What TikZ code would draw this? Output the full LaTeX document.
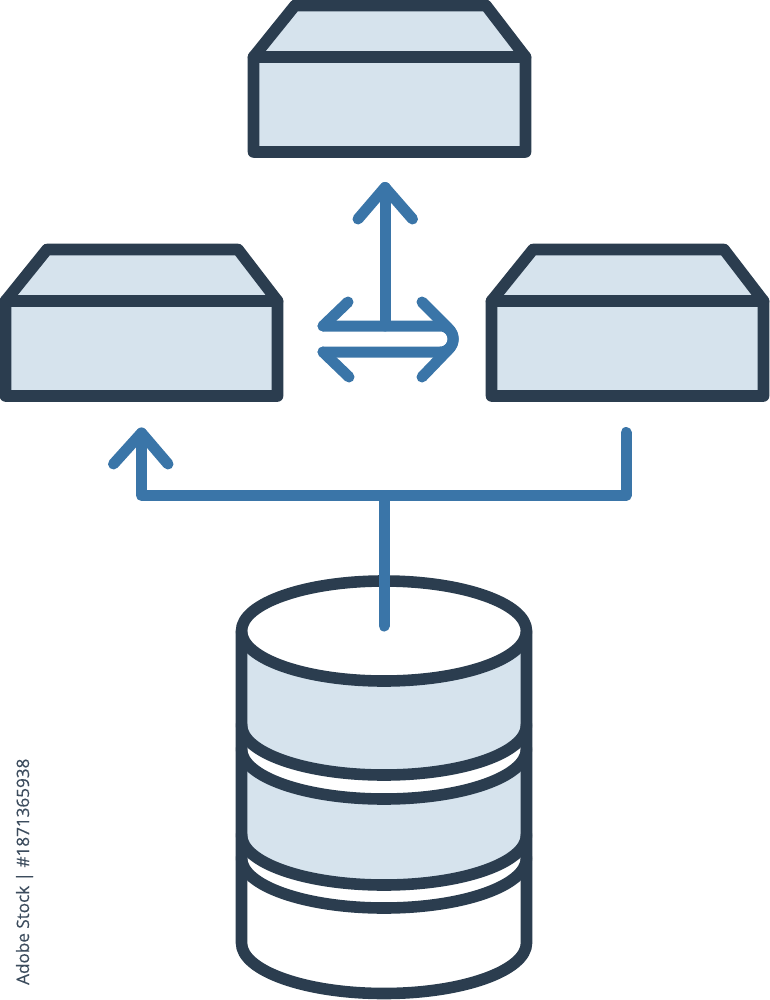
\documentclass[tikz,border=0pt]{standalone}
\usepackage{fontspec}
\setmainfont{Open Sans}
\newfontfamily\stampfont[FakeBold=0.25]{Open Sans}
\definecolor{navy}{HTML}{2B3D4F}
\definecolor{flow}{HTML}{3A75A8}
\definecolor{pale}{HTML}{D6E3ED}
\tikzset{
  outline/.style={draw=navy,line width=11.6pt,line join=round,line cap=round},
  flowline/.style={draw=flow,line width=11pt,line join=round,line cap=round},
  panel/.style={fill=pale,draw=none},
  stamp/.style={font=\stampfont\fontsize{17.1pt}{18pt}\selectfont,text=navy!92!white,rotate=90,inner sep=0pt},
  pics/storagebox/.style={code={
    \path[panel] (5.5,301) -- (47,249.5) -- (238,249.5) -- (277.5,301) -- (277.5,396) -- (5.5,396) -- cycle;
    \draw[outline] (5.5,301) -- (47,249.5) -- (238,249.5) -- (277.5,301) -- (277.5,396) -- (5.5,396) -- cycle;
    \draw[outline] (5.5,301) -- (277.5,301);
  }}
}
\begin{document}
\begin{tikzpicture}[x=1pt,y=-1pt]
\useasboundingbox (0,0) rectangle (769,1000);
% storage boxes
\pic at (248,-244) {storagebox};
\pic at (0,0) {storagebox};
\pic at (486,0) {storagebox};
% database: filled bands
\path[panel] (241.5,631) .. controls (241.5,658.6) and (305,681) .. (384,681)
  .. controls (463,681) and (526.5,658.6) .. (526.5,631) -- (526.5,725)
  .. controls (526.5,752.6) and (463,775) .. (384,775)
  .. controls (305,775) and (241.5,752.6) .. (241.5,725) -- cycle;
\path[panel] (241.5,749) .. controls (241.5,776.6) and (305,799) .. (384,799)
  .. controls (463,799) and (526.5,776.6) .. (526.5,749) -- (526.5,835)
  .. controls (526.5,862.6) and (463,885) .. (384,885)
  .. controls (305,885) and (241.5,862.6) .. (241.5,835) -- cycle;
% database: outline
\draw[outline] (384,631) ellipse [x radius=142.5pt,y radius=50pt];
\draw[outline] (241.5,631) -- (241.5,943) .. controls (241.5,970.6) and (305,993.5) .. (384,993.5)
  .. controls (463,993.5) and (526.5,970.6) .. (526.5,943) -- (526.5,631);
\foreach \yy in {725,749,835,858}{
  \draw[outline] (241.5,\yy) .. controls (241.5,\yy+27.6) and (305,\yy+50) .. (384,\yy+50)
    .. controls (463,\yy+50) and (526.5,\yy+27.6) .. (526.5,\yy);
}
% connector anchors
\coordinate (dbtop) at (384,626);
\coordinate (junction) at (384,495.5);
\coordinate (leftup) at (141.5,495.5);
\coordinate (lefttip) at (141.5,433);
\coordinate (rightup) at (626,495.5);
\coordinate (rightend) at (626,432.5);
\coordinate (uptip) at (385,187.5);
\coordinate (upfoot) at (385,326);
% distribution connector
\draw[flowline] (dbtop) -- (junction);
\draw[flowline] (lefttip) -- (leftup) -- (rightup) -- (rightend);
\draw[flowline] (113.5,464) -- (lefttip) -- (168,464);
% replication arrows
\draw[flowline] (upfoot) -- (uptip);
\draw[flowline] (358,219) -- (uptip) -- (412.5,219);
\coordinate (ulw) at (323,326);
\coordinate (llw) at (323,352);
\draw[flowline] (ulw) -- (440,326) .. controls (457.5,326) and (457.5,352) .. (440,352) -- (llw);
\draw[flowline] (348,302) -- (ulw);
\draw[flowline] (349,377) -- (llw);
\draw[flowline] (422,302) -- (448,328) .. controls (455,335) and (455,343) .. (448,350) -- (422,377);
% stock line
\node[stamp,anchor=base west] (idline) at (29,985) {Adobe Stock | \#1871365938};
\end{tikzpicture}
\end{document}
